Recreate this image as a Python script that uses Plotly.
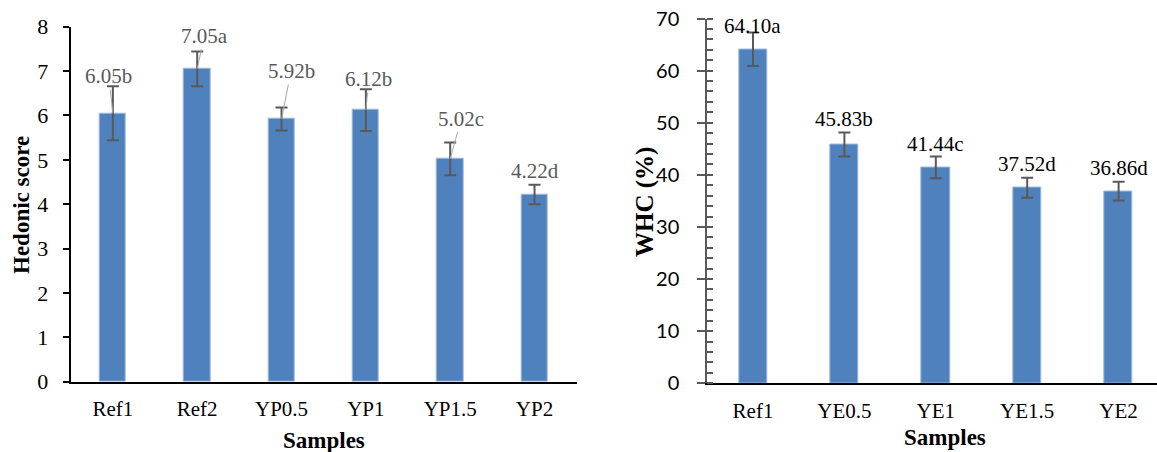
import plotly.graph_objects as go

# ---- Data ----
hed_samples = ["Ref1", "Ref2", "YP0.5", "YP1", "YP1.5", "YP2"]
hed_scores = [6.05, 7.05, 5.92, 6.12, 5.02, 4.22]
hed_err = [0.61, 0.39, 0.26, 0.47, 0.37, 0.22]
hed_letters = ["b", "a", "b", "b", "c", "d"]

whc_samples = ["Ref1", "YE0.5", "YE1", "YE1.5", "YE2"]
whc_values = [64.10, 45.83, 41.44, 37.52, 36.86]
whc_err = [3.2, 2.3, 2.1, 1.9, 1.8]
whc_letters = ["a", "b", "c", "d", "d"]

W, H = 1157, 452
BAR = "#4F81BD"
SERIF = "Liberation Serif"
SANS = "Lato"

def px(x):
    return x / W

def py(y):
    return 1 - y / H

fig = go.Figure()

fig.add_trace(go.Bar(
    x=hed_samples, y=hed_scores, xaxis="x", yaxis="y",
    marker=dict(color=BAR, line=dict(color="#9dbbe0", width=1)),
    width=0.31,
    error_y=dict(type="data", array=hed_err, color="#595959", thickness=2, width=6),
    showlegend=False,
))
fig.add_trace(go.Bar(
    x=whc_samples, y=whc_values, xaxis="x2", yaxis="y2",
    marker=dict(color=BAR, line=dict(color="#9dbbe0", width=1)),
    width=0.31,
    error_y=dict(type="data", array=whc_err, color="#595959", thickness=2, width=6),
    showlegend=False,
))

left_dom_x = [px(70.7), px(576.7)]
left_dom_y = [py(381.7), py(26.7)]
right_dom_x = [px(707.3), 1.0]
right_dom_y = [py(383.3), py(18.5)]

axis_common = dict(showgrid=False, zeroline=False, fixedrange=True, automargin=False)

fig.update_layout(
    width=W, height=H, autosize=False,
    margin=dict(l=0, r=0, t=0, b=0, pad=0, autoexpand=False),
    paper_bgcolor="white", plot_bgcolor="white",
    showlegend=False,
    bargap=0,
    xaxis=dict(domain=left_dom_x, anchor="y", range=[-0.5, 5.5], showline=True,
               linecolor="black", linewidth=2, ticks="",
               tickfont=dict(family=SERIF, size=21, color="black"),
               ticklabelstandoff=7, **axis_common),
    yaxis=dict(domain=left_dom_y, anchor="x", range=[0, 8], dtick=1, showline=True,
               linecolor="black", linewidth=2, ticks="outside", ticklen=6,
               tickwidth=2, tickcolor="black",
               tickfont=dict(family=SERIF, size=22, color="black"),
               ticklabelstandoff=10, **axis_common),
    yaxis3=dict(domain=left_dom_y, anchor="x", overlaying="y", range=[0, 8], dtick=1,
                ticks="inside", ticklen=6, tickwidth=2, tickcolor="black",
                showticklabels=False, showline=False, **axis_common),
    xaxis2=dict(domain=right_dom_x, anchor="y2", range=[-0.5, 4.42], showline=True,
                linecolor="black", linewidth=2, ticks="",
                tickfont=dict(family=SERIF, size=21, color="black"),
                ticklabelstandoff=7, **axis_common),
    yaxis2=dict(domain=right_dom_y, anchor="x2", range=[0, 70], dtick=10, showline=True,
                linecolor="#595959", linewidth=2, ticks="outside", ticklen=8,
                tickwidth=2, tickcolor="#595959",
                minor=dict(ticks="inside", ticklen=6, dtick=2, tickwidth=1.5,
                           tickcolor="#595959"),
                tickfont=dict(family=SANS, size=20, color="black"),
                ticklabelstandoff=14, **axis_common),
    yaxis4=dict(domain=right_dom_y, anchor="x2", overlaying="y2", range=[0, 70], dtick=10,
                ticks="inside", ticklen=8, tickwidth=2, tickcolor="#595959",
                showticklabels=False, showline=False, **axis_common),
)

annotations = []

# Left chart data labels with leader lines
hed_offsets = [(-4, -37), (7, -33), (9.5, -48), (3, -31), (11, -40), (0, -23)]
for i, (s, v, l) in enumerate(zip(hed_samples, hed_scores, hed_letters)):
    ax, ay = hed_offsets[i]
    annotations.append(dict(
        x=s, y=v, xref="x", yref="y", text=f"{v:.2f}{l}",
        showarrow=True, ax=ax, ay=ay, axref="pixel", ayref="pixel",
        arrowhead=0, arrowwidth=1,
        arrowcolor="#a6a6a6" if i < 5 else "rgba(0,0,0,0)",
        font=dict(family=SERIF, size=21, color="#595959"),
        xanchor="center", yanchor="middle",
    ))

# Right chart data labels
whc_shift = [7, 13.5, 12.5, 13.5, 14]
for i, (s, v, e, l) in enumerate(zip(whc_samples, whc_values, whc_err, whc_letters)):
    annotations.append(dict(
        x=s, y=v + e, xref="x2", yref="y2", text=f"{v:.2f}{l}",
        showarrow=False, yshift=whc_shift[i],
        font=dict(family=SERIF, size=21, color="black"),
        xanchor="center", yanchor="middle",
    ))

# Axis titles
annotations += [
    dict(x=px(21), y=py(205), xref="paper", yref="paper", text="<b>Hedonic score</b>",
         textangle=-90, showarrow=False, font=dict(family=SERIF, size=23, color="black"),
         xanchor="center", yanchor="middle"),
    dict(x=px(323.7), y=py(440), xref="paper", yref="paper", text="<b>Samples</b>",
         showarrow=False, font=dict(family=SERIF, size=23, color="black"),
         xanchor="center", yanchor="middle"),
    dict(x=px(645), y=py(202), xref="paper", yref="paper", text="<b>WHC (%)</b>",
         textangle=-90, showarrow=False, font=dict(family=SERIF, size=25, color="black"),
         xanchor="center", yanchor="middle"),
    dict(x=px(944.7), y=py(437), xref="paper", yref="paper", text="<b>Samples</b>",
         showarrow=False, font=dict(family=SERIF, size=23, color="black"),
         xanchor="center", yanchor="middle"),
]

fig.update_layout(annotations=annotations)

fig.write_html(
    "out.html",
    config={"responsive": False, "displayModeBar": False},
    post_script="document.body.style.margin='0';document.body.style.overflow='hidden';",
)
